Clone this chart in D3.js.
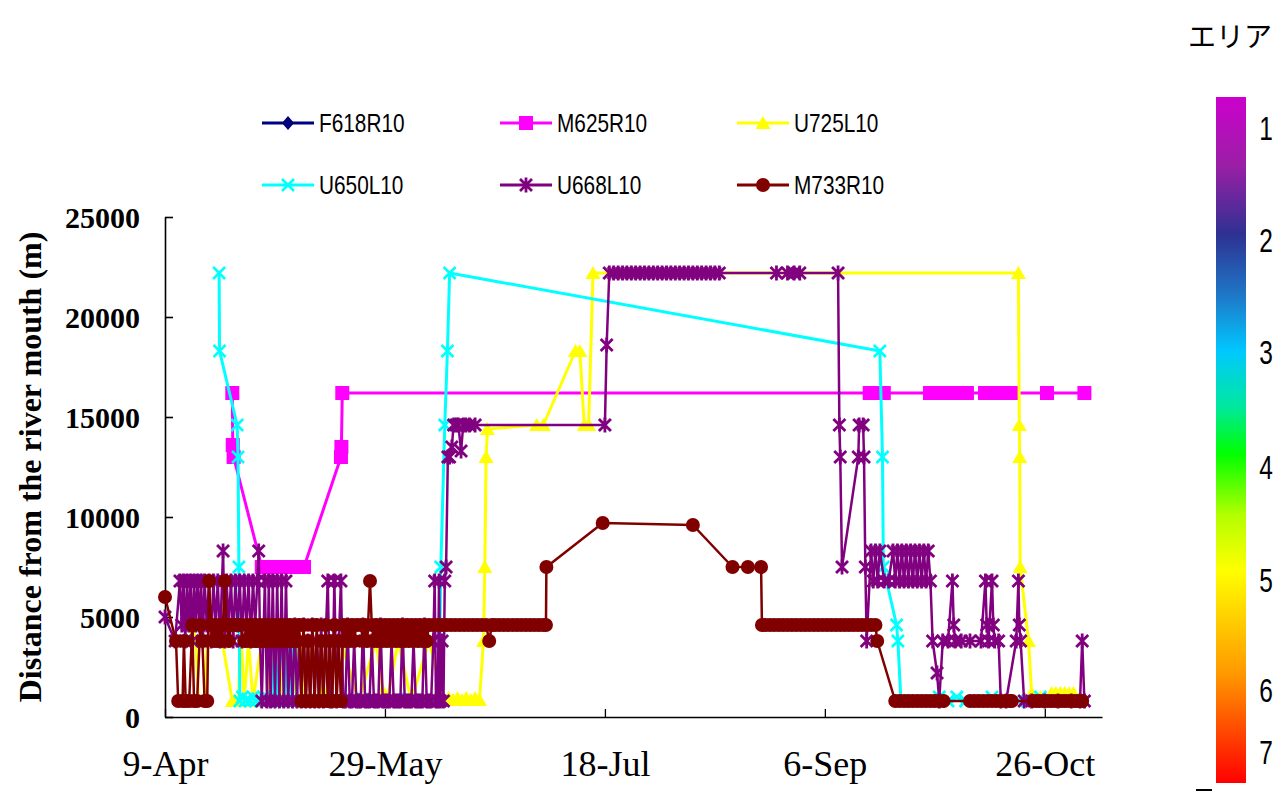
<!DOCTYPE html>
<html>
<head>
<meta charset="utf-8">
<script src="https://cdn.jsdelivr.net/npm/d3@7"></script>
<style>
  body { margin: 0; background: #fff; }
  svg { display: block; }
</style>
</head>
<body>
<svg id="chart" width="1278" height="794"></svg>
<script>
// ---- Data -------------------------------------------------------------
// Tracking fixes: [days since 9 April 2010, distance from river mouth (m)]
const surveyStart = "2010-04-09";
const surveyEnd = "2010-11-08";
const xTickDates = ["2010-04-09", "2010-05-29", "2010-07-18", "2010-09-06", "2010-10-26"];
const yTickValues = [0, 5000, 10000, 15000, 20000, 25000];

const seriesNames = ["F618R10", "M625R10", "U725L10", "U650L10", "U668L10", "M733R10"];
const seriesColors = ["#000080", "#ff00ff", "#ffff00", "#00ffff", "#800080", "#800000"];
const seriesSymbols = ["diamond", "square", "triangle", "cross", "star", "circle"];

const f618R10 = [[44, 800], [47, 800], [50, 800], [53, 800]];

const m625R10 = [
  [15.3, 16200], [15.4, 13600], [15.6, 13000],
  [22, 7500], [23, 7500], [24, 7500], [25, 7500], [26, 7500], [27, 7500], [28, 7500],
  [29, 7500], [30, 7500], [31, 7500], [31.6, 7500],
  [40, 13000], [40.1, 13500], [40.3, 16200],
  [160.2, 16200], [161.8, 16200], [163.4, 16200],
  [173.9, 16200], [175.5, 16200], [177, 16200], [178.6, 16200], [180.2, 16200], [182.3, 16200],
  [186.4, 16200], [188, 16200], [189.5, 16200], [191.1, 16200], [192.7, 16200],
  [200.5, 16200], [209, 16200]
];

const u725L10 = [
  [5.5, 3800], [6.3, 4600], [7, 3800], [7.6, 800], [9, 800], [9.6, 3800], [11, 4600], [13, 3800],
  [15.3, 800], [16, 800], [16.7, 800], [17.2, 4600], [18, 800], [19, 3800], [20, 800], [22, 3800],
  [23.2, 4600], [23.8, 800], [25, 3800], [25.8, 4600], [26.6, 800], [28, 3800], [29, 800],
  [30.5, 4600], [31.5, 800], [33, 3800], [36, 800], [40, 3800], [44, 800], [48, 3800],
  [49.5, 1300], [50.5, 800], [53, 3800], [56, 800], [60, 3800],
  [63.5, 850], [64.5, 950], [65.5, 850], [66.5, 950], [67.5, 850], [68.5, 950], [69.5, 850],
  [70.5, 950], [71.5, 850], [72.4, 3800], [72.7, 7500], [73, 13000], [73.3, 14400],
  [84.5, 14600], [86, 14600], [93.3, 18300], [94.3, 18300], [95.3, 14600], [96.3, 14600],
  [97.3, 22200], [194, 22200], [194.2, 14600], [194.3, 13000], [194.4, 7500],
  [196.3, 3800], [197, 1200], [198, 800], [199, 1000], [200, 800],
  [201.5, 1200], [202.5, 1200], [203.5, 1200], [204.5, 1200], [205.5, 1200], [206.5, 1200], [208, 800]
];

const u650L10 = [
  [12.3, 22200], [12.4, 18300], [16.4, 14600], [16.6, 13000], [16.8, 7500],
  [17, 800], [17.6, 1000], [18.2, 800], [18.8, 900], [19.4, 800], [20, 1000], [20.6, 800],
  [21.2, 900], [21.8, 800], [22.4, 1000], [23, 800], [23.6, 900], [24.2, 800], [25, 3800],
  [25.6, 800], [26.5, 4600], [27.2, 800], [28, 3800], [28.6, 800], [29.4, 4600], [30, 800],
  [32, 800], [35, 900], [38, 800], [42, 800], [45, 900], [48, 800], [52, 800], [55, 900],
  [58, 800], [61, 800], [62.3, 800], [62.7, 7500], [63.6, 14600], [64.2, 18300], [64.7, 22200],
  [162.5, 18300], [163.1, 13000], [163.3, 7500], [166.3, 4600], [166.6, 3800], [167.3, 800],
  [170, 800], [173, 800], [176, 1000], [178, 800], [180, 1000], [182, 800], [185, 800],
  [188, 1000], [191, 800], [194, 800], [196, 800], [199, 1000], [202, 800], [205, 800], [208, 800]
];

const u668L10 = [
  [0, 5000], [2.3, 3800], [3.4, 6800], [3.8, 4600], [4.2, 6800], [4.6, 3800], [5, 6800], [5.4, 4600],
  [5.8, 6800], [6.2, 3800], [6.6, 6800], [7, 4600], [7.4, 6800], [7.8, 4600], [8.2, 6800], [8.6, 3800],
  [9, 6800], [9.5, 4600], [10, 6800], [10.5, 3800], [11, 6800], [11.5, 4600], [12, 6800], [12.5, 3800],
  [13.2, 8300], [13.6, 3800], [14, 6800], [14.5, 4600], [15, 6800], [15.5, 3800], [16, 6800],
  [16.5, 4600], [17, 6800], [17.5, 3800], [18, 6800], [18.5, 4600], [19, 6800], [19.5, 3800],
  [20, 6800], [20.5, 4600], [21, 6800], [21.3, 8300], [21.6, 3800], [22, 800], [22.7, 6800],
  [23.2, 800], [23.6, 6800], [24, 800], [24.5, 6800], [25, 800], [25.5, 6800], [26, 800],
  [26.5, 6800], [27, 800], [27.5, 6800], [28, 800], [28.5, 3800], [29, 800], [29.5, 4600],
  [30, 800], [30.5, 3800], [31, 800], [31.5, 4600], [32, 800], [32.5, 3800], [33, 800],
  [33.5, 4600], [34, 800], [34.5, 3800], [35, 800], [35.5, 4600], [36, 800], [37, 6800],
  [37.5, 800], [38, 800], [38.5, 6800], [39, 800], [39.5, 3800], [40, 6800], [40.5, 800],
  [41, 800], [41.5, 4600], [42, 800], [42.5, 800], [43, 3800], [43.5, 800], [44, 800],
  [44.5, 800], [45, 4600], [45.5, 800], [46, 800], [46.5, 800], [47, 3800], [47.5, 800],
  [48, 800], [48.5, 800], [49, 4600], [49.5, 800], [50, 800], [50.5, 800], [51, 800],
  [51.5, 3800], [52, 800], [52.5, 800], [53, 800], [53.5, 800], [54, 4600], [54.5, 800],
  [55, 800], [55.5, 800], [56, 800], [56.5, 3800], [57, 800], [57.5, 800], [58, 800],
  [58.5, 800], [59, 4600], [59.5, 800], [60, 800], [60.5, 800], [61, 3800], [61.3, 6800],
  [61.6, 800], [62, 800], [62.3, 6800], [62.6, 800], [63, 3800], [63.3, 800], [63.6, 6800],
  [63.9, 7500], [64.3, 13000], [64.7, 13000], [65.2, 13500], [65.6, 14600], [66.2, 14600],
  [66.7, 14600], [67.3, 13300], [67.8, 14600], [68.4, 14600], [69.2, 14600], [70.5, 14600],
  [100, 14600], [100.4, 18600], [101, 22200], [102, 22200], [103, 22200], [104, 22200],
  [105, 22200], [106, 22200], [107, 22200], [108, 22200], [109, 22200], [110, 22200],
  [111, 22200], [112, 22200], [113, 22200], [114, 22200], [115, 22200], [116, 22200],
  [117, 22200], [118, 22200], [119, 22200], [120, 22200], [121, 22200], [122, 22200],
  [123, 22200], [124, 22200], [125, 22200], [126, 22200],
  [139, 22200], [141.5, 22200], [143, 22200], [144.3, 22200], [153, 22200],
  [153.3, 14600], [153.5, 13000], [153.9, 7500], [157.6, 13000], [157.8, 14600],
  [158.7, 14600], [158.9, 13000], [159.2, 7500], [159.5, 3800], [160.5, 8300], [161, 6800],
  [161.5, 8300], [162, 6800], [162.5, 8300], [163.5, 6800], [164.5, 6800], [165.5, 8300],
  [166, 6800], [166.5, 8300], [167, 6800], [167.5, 8300], [168, 6800], [168.5, 8300],
  [169, 6800], [169.5, 8300], [170, 6800], [170.5, 8300], [171, 6800], [171.5, 8300],
  [172, 6800], [172.5, 8300], [173, 6800], [173.5, 8300], [174, 6800], [174.5, 3800],
  [175.5, 2200], [176, 800], [176.8, 3800], [178, 3800], [179, 6800], [179.3, 4600],
  [179.6, 3800], [181, 3800], [183, 3800], [185.5, 3800], [186.5, 6800], [186.8, 4600],
  [187.2, 3800], [188, 6800], [188.3, 4600], [188.6, 3800], [189.5, 3800], [190, 800],
  [191.2, 800], [193.5, 3800], [194, 6800], [194.2, 4600], [194.5, 3800], [195.3, 800],
  [197, 800], [200, 800], [203, 800], [206, 800], [208, 800], [208.5, 3800], [209, 800]
];

const m733R10 = [
  [0, 6000], [2.5, 3800], [3, 800], [4, 800], [4.3, 3800], [4.7, 800], [5.5, 800], [6.2, 4600],
  [6.6, 800], [7.3, 800], [8, 4600], [8.5, 3800], [9, 800], [9.6, 800], [10, 6800], [10.5, 4600],
  [11, 3800], [11.5, 4600], [12, 3800], [12.5, 4600], [13, 3800], [13.6, 6800], [14, 4600],
  [14.5, 3800], [15, 4600], [16, 4600], [17, 4600], [18, 3800], [18.5, 4600], [19, 3800],
  [19.5, 4600], [20, 3800], [20.5, 4600], [21, 3800], [21.5, 4600], [22, 3800], [22.5, 4600],
  [23, 3800], [23.5, 4600], [24, 3800], [24.5, 4600], [25, 3800], [25.5, 4600], [26, 3800],
  [26.5, 4600], [27, 3800], [27.5, 4600], [28, 3800], [28.5, 4600], [29, 3800], [29.5, 4600],
  [30, 3800], [30.5, 4600], [31, 800], [31.5, 4600], [32, 800], [32.5, 3800], [33, 800],
  [33.5, 4600], [34, 800], [34.5, 4600], [35, 800], [35.5, 3800], [36, 800], [36.5, 4600],
  [37, 800], [37.5, 3800], [38, 800], [38.5, 4600], [39, 800], [39.5, 3800], [40, 800],
  [40.5, 4600], [41, 3800], [41.5, 4600], [42, 3800], [42.5, 4600], [43, 3800], [43.5, 4600],
  [44.5, 4600], [45, 3800], [45.5, 4600], [46, 3800], [46.6, 6800], [47, 4600], [47.5, 3800],
  [48, 4600], [48.5, 3800], [49, 4600], [49.5, 3800], [50, 4600], [50.5, 3800], [51, 4600],
  [51.5, 3800], [52, 4600], [52.5, 3800], [53, 4600], [53.5, 3800], [54, 4600], [54.5, 3800],
  [55, 4600], [55.5, 3800], [56, 4600], [56.5, 3800], [57, 4600], [57.5, 3800], [58, 4600],
  [58.5, 3800], [59, 4600], [59.5, 3800], [60, 4600], [61, 4600], [62, 4600], [63, 4600],
  [64, 4600], [65, 4600], [66, 4600], [67, 4600], [68, 4600], [69, 4600], [70, 4600],
  [71, 4600], [72, 4600], [73, 4600], [73.7, 3800], [74.3, 4600], [75, 4600], [76, 4600],
  [77, 4600], [78, 4600], [79, 4600], [80, 4600], [81, 4600], [82, 4600], [83, 4600],
  [84, 4600], [85, 4600], [86, 4600], [86.6, 4600], [86.7, 7500], [99.5, 9700], [120, 9600],
  [129, 7500], [132.5, 7500], [135.5, 7500], [135.7, 4600], [136.5, 4600], [137.5, 4600],
  [138.5, 4600], [139.5, 4600], [140.5, 4600], [141.5, 4600], [142.5, 4600], [143.5, 4600],
  [144.5, 4600], [145.5, 4600], [146.5, 4600], [147.5, 4600], [148.5, 4600], [149.5, 4600],
  [150.5, 4600], [151.5, 4600], [152.5, 4600], [153.5, 4600], [154.5, 4600], [155.5, 4600],
  [156.5, 4600], [157.5, 4600], [158.5, 4600], [159.5, 4600], [160.5, 4600], [161.5, 4600],
  [161.9, 3800], [166, 800], [167, 800], [168, 800], [169, 800], [170, 800], [171, 800],
  [172, 800], [173, 800], [174, 800], [175, 800], [176, 800], [177, 800],
  [183, 800], [184, 800], [185, 800], [186, 800], [187, 800], [188, 800], [189, 800],
  [190, 800], [191, 800], [192, 800], [192.5, 800],
  [197.5, 800], [198.5, 800], [199.5, 800], [200.5, 800], [201.5, 800], [202.5, 800],
  [203.5, 800], [204.5, 800], [205.5, 800], [206.5, 800], [207.5, 800], [208.5, 800]
];

const seriesData = [f618R10, m625R10, u725L10, u650L10, u668L10, m733R10];

// Colour-bar legend ("エリア" = area)
const areaTitle = "エリア";
const areaLabels = ["1", "2", "3", "4", "5", "6", "7"];

// ---- Layout ----------------------------------------------------------
const plot = { left: 165, right: 1102, top: 217, bottom: 717 };
const svg = d3.select("#chart");
const parseDay = d3.utcParse("%Y-%m-%d");
const t0 = parseDay(surveyStart).getTime();
const dayToDate = d => new Date(t0 + d * 864e5);

const x = d3.scaleUtc()
  .domain([parseDay(surveyStart), parseDay(surveyEnd)])
  .range([plot.left, plot.right]);
const y = d3.scaleLinear().domain([0, 25000]).range([plot.bottom, plot.top]);

// ---- Axes ------------------------------------------------------------
const yAxis = svg.append("g")
  .attr("transform", `translate(${plot.left},0)`)
  .call(d3.axisLeft(y).tickValues(yTickValues).tickSize(-8).tickSizeOuter(0).tickFormat(d3.format("d")));
yAxis.select(".domain").attr("stroke", "#000").attr("stroke-width", 1.6);
yAxis.selectAll(".tick line").attr("stroke", "#000").attr("stroke-width", 1.6);
yAxis.selectAll(".tick text")
  .attr("x", -25).attr("dy", "0.35em")
  .attr("font-family", "'Liberation Serif', 'Times New Roman', serif")
  .attr("font-size", 30).attr("font-weight", "bold").attr("fill", "#000");

const xAxis = svg.append("g")
  .attr("transform", `translate(0,${plot.bottom})`)
  .call(d3.axisBottom(x).tickValues(xTickDates.map(parseDay)).tickSize(-8).tickSizeOuter(0)
    .tickFormat(d3.utcFormat("%-d-%b")));
xAxis.select(".domain").attr("stroke", "#000").attr("stroke-width", 1.6);
xAxis.selectAll(".tick line").attr("stroke", "#000").attr("stroke-width", 1.3);
xAxis.selectAll(".tick text")
  .attr("y", 59).attr("dy", 0)
  .attr("font-family", "'Liberation Serif', 'Times New Roman', serif")
  .attr("font-size", 36).attr("fill", "#000");

svg.append("text")
  .attr("transform", `translate(30,467) rotate(-90)`)
  .attr("text-anchor", "middle")
  .attr("dominant-baseline", "central")
  .attr("font-family", "'Liberation Serif', 'Times New Roman', serif")
  .attr("font-size", 32).attr("font-weight", "bold")
  .text("Distance from the river mouth (m)");

// ---- Marker shapes ---------------------------------------------------
function drawMarker(sel, kind, color) {
  switch (kind) {
    case "diamond":
      sel.append("path").attr("d", "M0,-7L6,0L0,7L-6,0Z").attr("fill", color); break;
    case "square":
      sel.append("rect").attr("x", -7).attr("y", -7).attr("width", 14).attr("height", 14).attr("fill", color); break;
    case "triangle":
      sel.append("path").attr("d", "M0,-7L7.5,6L-7.5,6Z").attr("fill", color); break;
    case "cross":
      sel.append("path").attr("d", "M-6,-6L6,6M-6,6L6,-6").attr("stroke", color).attr("stroke-width", 2.6).attr("fill", "none"); break;
    case "star":
      sel.append("path").attr("d", "M-6,-6L6,6M-6,6L6,-6M0,-7.5L0,7.5").attr("stroke", color).attr("stroke-width", 2.8).attr("fill", "none"); break;
    case "circle":
      sel.append("circle").attr("r", 7).attr("fill", color); break;
  }
}

// ---- Series ----------------------------------------------------------
const line = d3.line().x(d => x(dayToDate(d[0]))).y(d => y(d[1]));
const lineWidths = [2.5, 3, 3, 3, 2.5, 2.5];

seriesData.forEach((data, i) => {
  const g = svg.append("g").attr("class", "series");
  g.append("path")
    .datum(data)
    .attr("d", line)
    .attr("fill", "none")
    .attr("stroke", seriesColors[i])
    .attr("stroke-width", lineWidths[i])
    .attr("stroke-linejoin", "round");
  g.selectAll("g.pt")
    .data(data)
    .join("g")
    .attr("class", "pt")
    .attr("transform", d => `translate(${x(dayToDate(d[0]))},${y(d[1])})`)
    .each(function () { drawMarker(d3.select(this), seriesSymbols[i], seriesColors[i]); });
});

// ---- Series legend ---------------------------------------------------
const legendCols = [262, 500, 737];
const legendRows = [123, 185];
seriesNames.forEach((name, i) => {
  const cx = legendCols[i % 3], cy = legendRows[Math.floor(i / 3)];
  const g = svg.append("g").attr("transform", `translate(${cx},${cy})`);
  g.append("line").attr("x1", 0).attr("x2", 52).attr("y1", 0).attr("y2", 0)
    .attr("stroke", seriesColors[i]).attr("stroke-width", 3);
  const m = g.append("g").attr("transform", "translate(26,0)");
  drawMarker(m, seriesSymbols[i], seriesColors[i]);
  g.append("text")
    .attr("transform", "translate(57,0) scale(0.8,1)")
    .attr("dominant-baseline", "central")
    .attr("font-family", "'Liberation Sans', Arial, sans-serif")
    .attr("font-size", 26)
    .attr("fill", "#000")
    .text(name);
});

// ---- Area colour bar -------------------------------------------------
const bar = { x: 1216, y: 97, w: 30, h: 686 };
const grad = svg.append("defs").append("linearGradient")
  .attr("id", "areaGrad").attr("x1", 0).attr("y1", 0).attr("x2", 0).attr("y2", 1);
[[0, "#cc00cc"], [0.1, "#9a1fa6"], [0.2, "#2e3192"], [0.29, "#1e78c8"], [0.37, "#00c8ff"],
 [0.45, "#00e8a0"], [0.52, "#00ff00"], [0.61, "#b4ff00"], [0.69, "#ffff00"],
 [0.84, "#ff9900"], [1, "#ff0000"]]
  .forEach(([o, c]) => grad.append("stop").attr("offset", o).attr("stop-color", c));
svg.append("rect").attr("x", bar.x).attr("y", bar.y).attr("width", bar.w).attr("height", bar.h)
  .attr("fill", "url(#areaGrad)");

svg.append("text")
  .attr("x", 1230).attr("y", 35)
  .attr("text-anchor", "middle").attr("dominant-baseline", "central")
  .attr("font-family", "'Noto Sans CJK JP', sans-serif")
  .attr("font-size", 28).attr("fill", "#000")
  .text(areaTitle);

const areaLabelPos = [128, 240, 352, 467, 580, 690, 752];
areaLabels.forEach((lab, i) => {
  svg.append("text")
    .attr("transform", `translate(1266,${areaLabelPos[i]}) scale(0.72,1)`)
    .attr("text-anchor", "middle").attr("dominant-baseline", "central")
    .attr("font-family", "'Liberation Sans', Arial, sans-serif")
    .attr("font-size", 34).attr("fill", "#000")
    .text(lab);
});
svg.append("line").attr("x1", 1196).attr("x2", 1212).attr("y1", 790).attr("y2", 790)
  .attr("stroke", "#000").attr("stroke-width", 2);
</script>
</body>
</html>
